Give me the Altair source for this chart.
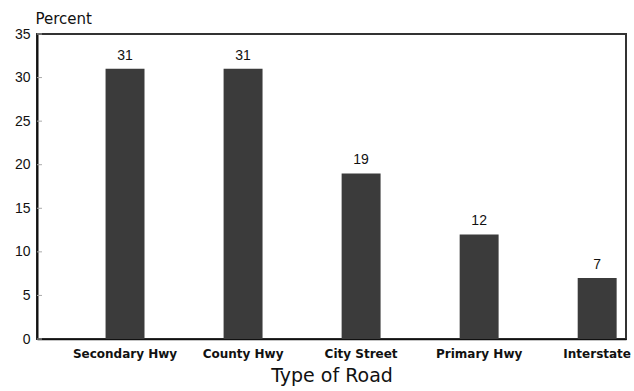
import altair as alt
import pandas as pd

roads = ["Secondary Hwy", "County Hwy", "City Street", "Primary Hwy", "Interstate"]
percent = [31, 31, 19, 12, 7]
y_ticks = [0, 5, 10, 15, 20, 25, 30, 35]

df = pd.DataFrame({"road": roads, "pct": percent})
tick_df = pd.DataFrame({"v": y_ticks})

x_scale = alt.Scale(domain=roads, paddingInner=0.67, paddingOuter=0.33, align=0.88)
y_scale = alt.Scale(domain=[0, 35], nice=False)

bars = alt.Chart(df).mark_bar(color="#3b3b3b").encode(
    x=alt.X("road:N", sort=roads, scale=x_scale,
            axis=alt.Axis(title="Type of Road", labelAngle=0, labelFont="DejaVu Sans",
                          labelFontWeight="bold", labelFontSize=12, labelColor="#111",
                          labelPadding=9, ticks=False, domainColor="#111", domainWidth=1.5,
                          titleFont="DejaVu Sans", titleFontSize=19, titleFontWeight="normal",
                          titleColor="#111", titlePadding=7)),
    y=alt.Y("pct:Q", scale=y_scale,
            axis=alt.Axis(title="Percent", values=y_ticks, grid=False, ticks=False,
                          labelFont="Liberation Sans", labelFontSize=14, labelColor="#111",
                          labelPadding=7, domainColor="#111", domainWidth=2,
                          titleAngle=0, titleAlign="left", titleBaseline="alphabetic",
                          titleX=-2, titleY=-11, titleFont="DejaVu Sans",
                          titleFontSize=15, titleFontWeight="normal", titleColor="#111")),
)

labels = alt.Chart(df).mark_text(baseline="bottom", dy=-6, font="Liberation Sans",
                                 fontSize=14, color="#111").encode(
    x=alt.X("road:N", sort=roads, scale=x_scale),
    y=alt.Y("pct:Q", scale=y_scale),
    text="pct:Q",
)

# short inward ticks on the value axis
ticks = alt.Chart(tick_df).mark_rule(color="#aaa", strokeWidth=1).encode(
    x=alt.value(0), x2=alt.value(5),
    y=alt.Y("v:Q", scale=y_scale),
)

chart = alt.layer(ticks, bars, labels).properties(
    width=589, height=305,
    autosize=alt.AutoSizeParams(type="none"),
    padding={"left": 37, "top": 34, "right": 8, "bottom": 52},
    view=alt.ViewBackground(stroke="#333", strokeWidth=2),
).configure(background="white")

chart.save("out.html", embed_options={"renderer": "svg", "actions": False})
